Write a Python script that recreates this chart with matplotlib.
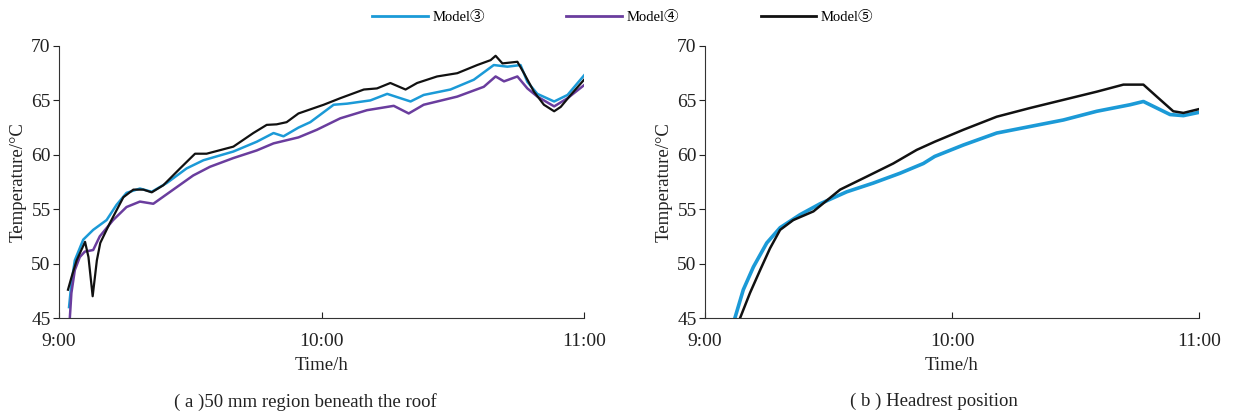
import matplotlib
matplotlib.use('Agg')
import matplotlib.pyplot as plt
from matplotlib.lines import Line2D

plt.rcParams['font.family'] = ['Liberation Serif', 'Noto Sans CJK SC']
plt.rcParams['mathtext.fontset'] = 'stix'

# (a) 50 mm region beneath the roof -- time in hours after 9:00
a_m5_t = [0.034, 0.048, 0.067, 0.099, 0.112, 0.128, 0.144, 0.157, 0.193, 0.245, 0.283,
          0.321, 0.353, 0.397, 0.461, 0.518, 0.562, 0.664, 0.740, 0.791, 0.829, 0.867,
          0.912, 0.960, 1.008, 1.071, 1.161, 1.211, 1.262, 1.320, 1.364, 1.440, 1.517,
          1.593, 1.644, 1.663, 1.689, 1.746, 1.771, 1.809, 1.847, 1.886, 1.911, 1.949, 2.0]
a_m5_v = [47.6, 48.8, 50.3, 52.0, 50.6, 47.0, 50.3, 51.9, 53.7, 56.1, 56.8,
          56.8, 56.55, 57.2, 58.75, 60.1, 60.1, 60.75, 62.0, 62.75, 62.8, 63.0,
          63.8, 64.2, 64.6, 65.2, 66.0, 66.1, 66.6, 66.0, 66.6, 67.2, 67.5,
          68.25, 68.7, 69.1, 68.4, 68.55, 67.5, 65.8, 64.6, 64.0, 64.4, 65.5, 66.9]

a_m3_t = [0.038, 0.047, 0.060, 0.092, 0.130, 0.181, 0.219, 0.257, 0.308, 0.353, 0.410,
          0.486, 0.550, 0.664, 0.753, 0.817, 0.855, 0.912, 0.957, 1.046, 1.097, 1.186,
          1.250, 1.288, 1.339, 1.389, 1.491, 1.580, 1.656, 1.708, 1.758, 1.784, 1.822,
          1.886, 1.937, 2.0]
a_m3_v = [46.0, 48.2, 50.3, 52.2, 53.1, 54.0, 55.4, 56.5, 56.9, 56.6, 57.4,
          58.75, 59.5, 60.3, 61.2, 62.0, 61.7, 62.5, 63.0, 64.6, 64.7, 65.0,
          65.6, 65.3, 64.9, 65.5, 66.0, 66.9, 68.25, 68.1, 68.25, 66.7, 65.6,
          64.9, 65.5, 67.3]

a_m4_t = [0.041, 0.047, 0.060, 0.079, 0.098, 0.130, 0.155, 0.206, 0.257, 0.308, 0.359,
          0.435, 0.511, 0.575, 0.664, 0.753, 0.817, 0.912, 0.982, 1.071, 1.173, 1.275,
          1.332, 1.389, 1.517, 1.618, 1.663, 1.695, 1.746, 1.784, 1.822, 1.886, 1.937, 2.0]
a_m4_v = [45.0, 47.3, 49.4, 50.6, 51.1, 51.25, 52.5, 54.0, 55.2, 55.7, 55.5,
          56.8, 58.1, 58.9, 59.7, 60.4, 61.05, 61.6, 62.3, 63.35, 64.1, 64.5,
          63.8, 64.6, 65.35, 66.25, 67.2, 66.75, 67.2, 66.1, 65.35, 64.45, 65.2, 66.4]

# (b) Headrest position
b_m5_t = [0.142, 0.182, 0.223, 0.263, 0.304, 0.357, 0.439, 0.547, 0.655, 0.762, 0.857,
          0.930, 1.046, 1.181, 1.316, 1.451, 1.586, 1.694, 1.775, 1.829, 1.896, 1.937, 2.0]
b_m5_v = [45.0, 47.3, 49.4, 51.4, 53.1, 54.0, 54.8, 56.8, 58.0, 59.2, 60.45,
          61.2, 62.3, 63.5, 64.3, 65.05, 65.8, 66.45, 66.45, 65.35, 64.0, 63.85, 64.2]

b_m3_t = [0.121, 0.155, 0.196, 0.250, 0.304, 0.385, 0.466, 0.574, 0.681, 0.789, 0.884,
          0.930, 1.046, 1.181, 1.316, 1.451, 1.586, 1.721, 1.775, 1.829, 1.883, 1.937, 2.0]
b_m3_v = [45.0, 47.6, 49.7, 51.9, 53.3, 54.5, 55.5, 56.6, 57.4, 58.3, 59.2,
          59.85, 60.9, 62.0, 62.6, 63.2, 64.0, 64.6, 64.9, 64.3, 63.7, 63.6, 63.9]

x_ticks = [0, 1, 2]
x_labels = ['9:00', '10:00', '11:00']
y_ticks = [45, 50, 55, 60, 65, 70]
captions = ['( a )50 mm region beneath the roof', '( b ) Headrest position']

c3 = '#1b9ad7'
c4 = '#6a3d9e'
c5 = '#111111'

fig = plt.figure(figsize=(12.33, 4.17), dpi=100)
ax1 = fig.add_axes([0.0479, 0.2374, 0.4258, 0.6523])
ax2 = fig.add_axes([0.5718, 0.2374, 0.4006, 0.6523])

ax1.plot(a_m3_t, a_m3_v, color=c3, lw=1.8)
ax1.plot(a_m4_t, a_m4_v, color=c4, lw=1.8)
ax1.plot(a_m5_t, a_m5_v, color=c5, lw=1.6)

ax2.plot(b_m3_t, b_m3_v, color=c3, lw=2.6)
ax2.plot(b_m5_t, b_m5_v, color=c5, lw=1.8)

for ax, cap, cx in zip([ax1, ax2], captions, [0.469, 0.464]):
    ax.set_xlim(0, 2)
    ax.set_ylim(45, 70)
    ax.set_xticks(x_ticks)
    ax.set_xticklabels(x_labels)
    ax.set_yticks(y_ticks)
    ax.spines['top'].set_visible(False)
    ax.spines['right'].set_visible(False)
    ax.spines['left'].set_color('#333333')
    ax.spines['bottom'].set_color('#333333')
    ax.tick_params(axis='x', direction='in', length=4, labelsize=14, pad=11, colors='#222222')
    ax.tick_params(axis='y', direction='out', length=4, labelsize=14, pad=2, colors='#222222')
    ax.set_xlabel('Time/h', fontsize=13.5, labelpad=5, color='#222222')
    ax.set_ylabel('Temperature/°C', fontsize=13.5, labelpad=3, color='#222222')
    ax.text(cx, -0.275, cap, transform=ax.transAxes, ha='center', va='top',
            fontsize=13.5, color='#222222')

handles = [Line2D([], [], color=c3, lw=2), Line2D([], [], color=c4, lw=2),
           Line2D([], [], color=c5, lw=2)]
fig.legend(handles, ['Model③', 'Model④', 'Model⑤'], loc='upper center',
           bbox_to_anchor=(0.505, 1.005), ncol=3, frameon=False, fontsize=10.5,
           handlelength=3.8, columnspacing=5.6, handletextpad=0.3)

fig.savefig('out.png', dpi=100)
